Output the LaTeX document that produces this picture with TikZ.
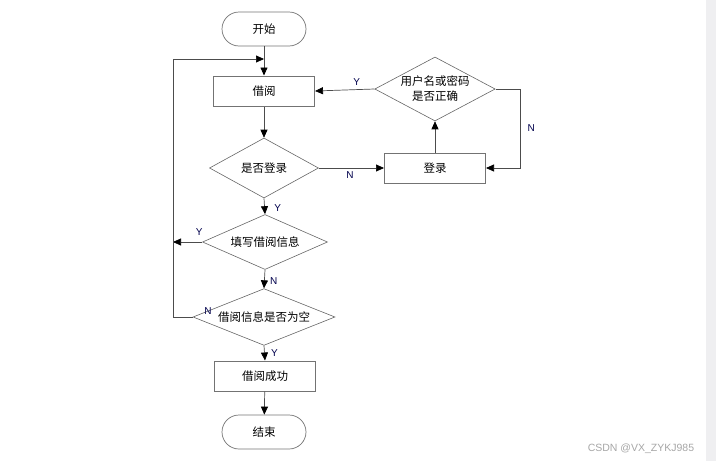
\documentclass[tikz,border=0pt]{standalone}
\usepackage{fontspec}
\setmainfont{Liberation Sans}
\newfontfamily\cjk{Noto Sans CJK SC}
\usepackage{tikz}
\usetikzlibrary{shapes.geometric,arrows.meta}

\begin{document}
\begin{tikzpicture}[x=1pt,y=-1pt,
  every node/.style={font=\cjk\fontsize{11.5}{15}\selectfont},
  term/.style={draw=black!55,line width=0.7pt,rounded corners=17pt,minimum width=84pt,minimum height=34pt,inner sep=0pt},
  proc/.style={draw=black!55,line width=1pt,minimum width=101pt,minimum height=30pt,inner sep=0pt},
  ask/.style={draw=black!60,line width=0.6pt,diamond,aspect=2,inner sep=0pt},
  flow/.style={draw=black!70,line width=0.7pt,-{Triangle[length=8pt,width=7pt,color=black]}},
  yn/.style={font=\fontsize{10}{11}\selectfont,text=blue!30!black}]
\useasboundingbox (0,0) rectangle (716,461);
\fill[blue!6!gray!12] (706,0) rectangle (716,461);

\node[term] (start) at (264,29) {开始};
\node[proc] (borrow) at (264,91) {借阅};
\node[ask,minimum width=109pt,minimum height=60pt] (logged) at (264,168) {是否登录};
\node[proc] (login) at (435,168) {登录};
\node[ask,minimum width=120pt,minimum height=64pt,align=center] (check) at (435,89) {用户名或密码\\是否正确};
\node[ask,minimum width=125pt,minimum height=55pt] (fill) at (265,242) {填写借阅信息};
\node[ask,minimum width=142pt,minimum height=54pt] (empty) at (264,317) {借阅信息是否为空};
\node[proc] (done) at (265,376) {借阅成功};
\node[term] (stop) at (264,432) {结束};
\coordinate (top) at (264,59);
\coordinate (left) at (173,317);
\coordinate (mid) at (173,242);
\coordinate (right) at (520,89);

\draw[flow] (start)--(borrow);
\draw[flow] (borrow)--(logged);
\draw[flow] (logged.east)--(login.west) node[yn,pos=0.48,below] {N};
\draw[flow] (login)--(check);
\draw[flow] (check.west)--(borrow.east) node[yn,pos=0.3,above] {Y};
\draw[flow] (check.east)--(right)|-(login.east) node[yn,pos=0.25,right,xshift=4pt] {N};
\draw[flow] (logged.south)--(fill.north) node[yn,pos=0.6,right,xshift=6pt] {Y};
\draw[flow] (fill.west)--(mid) node[yn,pos=0.1,above,yshift=3pt] {Y};
\draw[flow] (fill.south)--(empty.north) node[yn,pos=0.6,right,xshift=2pt] {N};
\draw[flow] (empty.west)--(left)--(173,59)--(top);
\node[yn] at (208,311) {N};
\draw[flow] (empty.south)--(done.north) node[yn,pos=0.5,right,xshift=3pt] {Y};
\draw[flow] (done)--(stop);
\node[font=\fontsize{10.5}{12}\selectfont,text=black!35] (mark) at (641,449) {CSDN @VX\_ZYKJ985};
\end{tikzpicture}
\end{document}
